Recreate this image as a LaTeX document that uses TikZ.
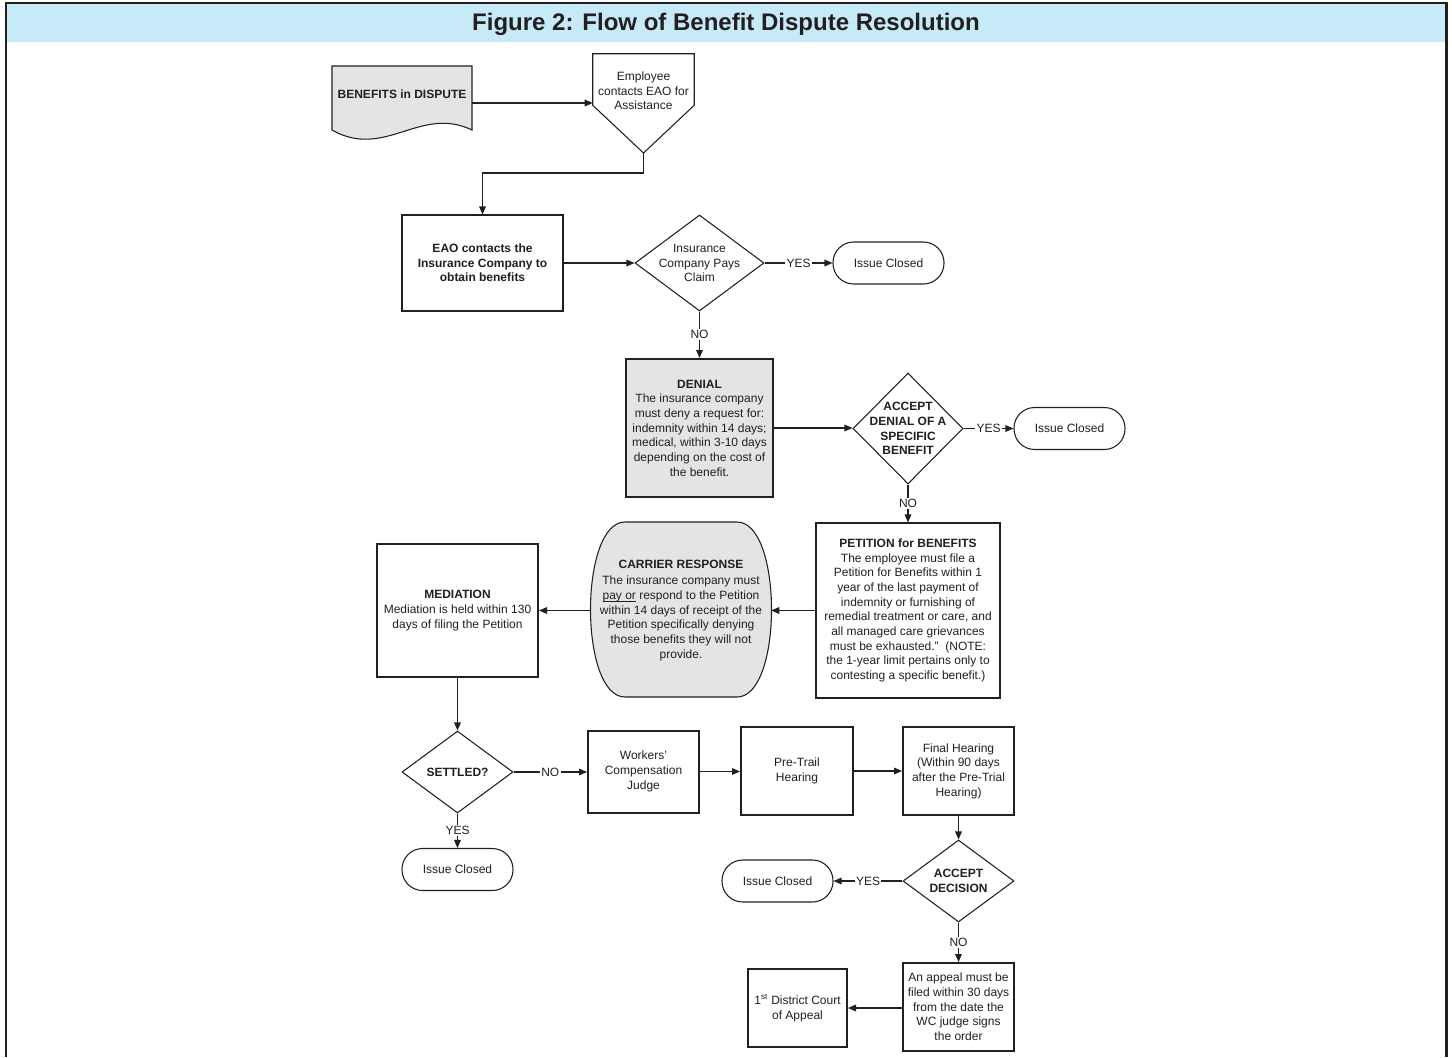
\documentclass[tikz,border=0pt]{standalone}
\usepackage{fontspec}
\setmainfont{Liberation Sans}
\usetikzlibrary{arrows.meta,shapes.geometric}
\definecolor{band}{RGB}{199,234,249}
\definecolor{framec}{RGB}{35,31,32}
\definecolor{shade}{RGB}{228,228,228}
\newsavebox{\ulbox}
\newcommand{\myul}[1]{\sbox{\ulbox}{#1}\rlap{\rule[-1.4pt]{\wd\ulbox}{0.5pt}}\usebox{\ulbox}}
\tikzset{
  bfnode/.style={font=\fontsize{9}{11}\selectfont\bfseries},
  thinb/.style={draw=framec, line width=0.8pt},
  thickb/.style={draw=framec, line width=1.5pt},
  sz/.style 2 args={minimum width=#1*0.75pt, minimum height=#2*0.75pt},
  arr/.style={-{Triangle[length=6pt,width=5pt]}, line width=0.8pt, draw=framec},
  lbl/.style={fill=white, inner xsep=1pt, inner ysep=1pt},
  term/.style={thinb, rounded corners=15.5pt, sz={111}{42}},
  dia/.style={thinb, diamond, inner sep=0pt}
}
\begin{document}
\begin{tikzpicture}[x=0.75pt,y=-0.75pt,
  every node/.style={font=\fontsize{9}{11}\selectfont, align=center, inner sep=0pt, text=framec}]
\useasboundingbox (0,0) rectangle (1452,1057);
\fill[white] (0,0) rectangle (1452,1057);
\fill[band] (6,3) rectangle (1446,42);
\draw[framec, line width=1.9pt] (6,1057) -- (6,3) -- (1446.5,3) -- (1446.5,1057);
\node[font=\fontsize{18}{20}\selectfont\bfseries] (title) at (726,24) {Figure 2: Flow of Benefit Dispute Resolution};

% Benefits in dispute (document)
\node[sz={140}{74}] (doc) at (402,103) {};
\draw[thinb, fill=shade] (332,66) -- (472,66) -- (472,130) .. controls (420,105) and (385,160) .. (332,130) -- cycle;
\node[bfnode] (doct) at (402,94) {BENEFITS in DISPUTE};

% Employee contacts EAO (off-page connector)
\node[sz={101}{51}] (emp) at (643.5,79.5) {};
\coordinate (empP) at (643.5,153);
\draw[thinb] (emp.north west) -- (emp.north east) -- (emp.south east) -- (empP) -- (emp.south west) -- cycle;
\node (empt) at (643.5,91) {Employee\\contacts EAO for\\Assistance};
\draw[arr] (doc.east) -- (doc.east -| emp.west);

% EAO contacts
\node[thinb, sz={161}{96}, bfnode] (eao) at (482.5,263) {EAO contacts the\\Insurance Company to\\obtain benefits};
\draw[arr] (empP) -- ++(0,20) -| (eao.north);

\node[dia, sz={129}{96}, label={center:{Insurance\\Company Pays\\Claim}}] (ins) at (699.5,263) {};
\draw[arr] (eao.east) -- (ins.west);
\node[term] (ic1) at (888.5,263) {Issue Closed};
\draw[arr] (ins.east) -- node[lbl]{YES} (ic1.west);

\node[thickb, fill=shade, sz={147}{138}] (den) at (699.5,428) {\textbf{DENIAL}\\The insurance company\\must deny a request for:\\indemnity within 14 days;\\medical, within 3-10 days\\depending on the cost of\\the benefit.};
\draw[arr] (ins.south) -- node[lbl]{NO} (den.north);

\node[dia, sz={110}{111}, label={[bfnode]center:{ACCEPT\\DENIAL OF A\\SPECIFIC\\BENEFIT}}] (acc) at (908,428.5) {};
\draw[arr] (den.east) -- (den.east -| acc.west);
\node[term] (ic2) at (1069.5,428.5) {Issue Closed};
\draw[arr] (acc.east) -- node[lbl]{YES} (ic2.west);

\node[thinb, sz={184}{175}] (pet) at (908,610.5) {\textbf{PETITION for BENEFITS}\\The employee must file a\\Petition for Benefits within 1\\year of the last payment of\\indemnity or furnishing of\\remedial treatment or care, and\\all managed care grievances\\must be exhausted."\ \ (NOTE:\\the 1-year limit pertains only to\\contesting a specific benefit.)};
\draw[arr] (acc.south) -- node[lbl]{NO} (pet.north);

% Carrier response
\draw[thinb, fill=shade] (625,522) -- (737,522) .. controls (783,522) and (783,697) .. (737,697) -- (625,697) .. controls (579,697) and (579,522) .. (625,522) -- cycle;
\node[sz={180}{175}] (car) at (681,610.5) {\textbf{CARRIER RESPONSE}\\[1pt]The insurance company must\\\myul{pay or} respond to the Petition\\within 14 days of receipt of the\\Petition specifically denying\\those benefits they will not\\provide.};
\draw[arr] (pet.west) -- (car.east);

\node[thickb, sz={161}{133}] (med) at (457.5,610.5) {\textbf{MEDIATION}\\Mediation is held within 130\\days of filing the Petition};
\draw[arr] (car.west) -- (car.west -| med.east);

\node[dia, sz={111}{82}, label={[bfnode]center:SETTLED?}] (set) at (457.5,772) {};
\draw[arr] (med.south) -- (set.north);
\node[thickb, sz={111}{82}] (wcj) at (643.5,771.5) {Workers’\\Compensation\\Judge};
\draw[arr] (set.east) -- node[lbl]{NO} (set.east -| wcj.west);
\node[term] (ic3) at (457.5,869.5) {Issue Closed};
\draw[arr] (set.south) -- node[lbl]{YES} (ic3.north);

\node[thickb, sz={112}{88}] (pre) at (797,771) {Pre-Trail\\Hearing};
\draw[arr] (wcj.east) -- (wcj.east -| pre.west);
\node[thickb, sz={111}{88}] (fin) at (958.5,771) {Final Hearing\\(Within 90 days\\after the Pre-Trial\\Hearing)};
\draw[arr] (pre.east) -- (fin.west);

\node[dia, sz={111}{82}, label={[bfnode]center:{ACCEPT\\DECISION}}] (dec) at (958.5,881) {};
\draw[arr] (fin.south) -- (dec.north);
\node[term] (ic4) at (777.5,881) {Issue Closed};
\draw[arr] (dec.west) -- node[lbl]{YES} (ic4.east);

\node[thickb, sz={111}{88}] (app) at (958.5,1007) {An appeal must be\\filed within 30 days\\from the date the\\WC judge signs\\the order};
\draw[arr] (dec.south) -- node[lbl]{NO} (app.north);
\node[thickb, sz={99}{78}] (dca) at (797.5,1008) {1\textsuperscript{st} District Court\\of Appeal};
\draw[arr] (app.west |- dca.east) -- (dca.east);
\end{tikzpicture}
\end{document}
